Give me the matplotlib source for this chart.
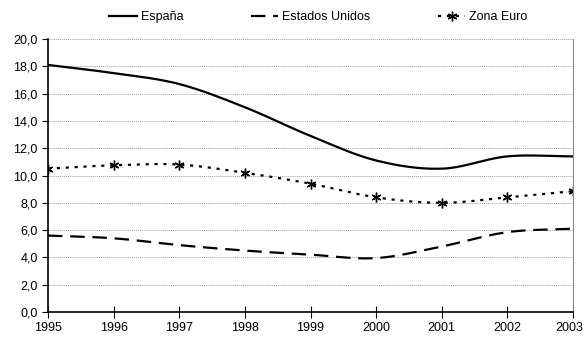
import numpy as np
import matplotlib
matplotlib.use('Agg')
import matplotlib.pyplot as plt
import matplotlib.transforms as mtransforms
from matplotlib.ticker import FuncFormatter

plt.rcParams['font.family'] = ['Liberation Sans', 'DejaVu Sans']

years = [1995, 1996, 1997, 1998, 1999, 2000, 2001, 2002, 2003]
espana = [18.1, 17.5, 16.7, 15.0, 12.9, 11.1, 10.5, 11.4, 11.4]
eeuu = [5.6, 5.4, 4.9, 4.5, 4.2, 3.95, 4.8, 5.85, 6.1]
zona_euro = [10.5, 10.75, 10.8, 10.2, 9.4, 8.4, 8.0, 8.4, 8.85]


def smooth(x, y, n=30):
    # Catmull-Rom style smoothing like Excel's smoothed lines
    x = np.asarray(x, float)
    y = np.asarray(y, float)
    px = np.concatenate([[2 * x[0] - x[1]], x, [2 * x[-1] - x[-2]]])
    py = np.concatenate([[2 * y[0] - y[1]], y, [2 * y[-1] - y[-2]]])
    xs, ys = [], []
    t = np.linspace(0, 1, n)
    for i in range(1, len(px) - 2):
        for arr, out in ((px, xs), (py, ys)):
            p0, p1, p2, p3 = arr[i - 1:i + 3]
            out.extend(0.5 * ((2 * p1) + (-p0 + p2) * t
                              + (2 * p0 - 5 * p1 + 4 * p2 - p3) * t ** 2
                              + (-p0 + 3 * p1 - 3 * p2 + p3) * t ** 3))
    return np.array(xs), np.array(ys)


fig = plt.figure(figsize=(5.85, 3.38), dpi=100)
ax = fig.add_axes([48 / 585, 26 / 338, (573 - 48) / 585, (312 - 39) / 338])

lw = 1.6
sx, sy = smooth(years, espana)
ax.plot(sx, sy, color='black', lw=lw, label='España')
sx, sy = smooth(years, eeuu)
ax.plot(sx, sy, color='black', lw=lw, dashes=(6.5, 3.5), label='Estados Unidos')
sx, sy = smooth(years, zona_euro)
ax.plot(sx, sy, color='black', lw=lw, dashes=(1.4, 2.6))
ax.plot(years, zona_euro, ls='none', marker=(6, 2, 0), color='black',
        ms=7, mew=1)
ax.plot([], [], color='black', lw=lw, dashes=(1.4, 2.6), marker=(6, 2, 0),
        ms=7, mew=1, label='Zona Euro')

ax.set_xlim(1995, 2003)
ax.set_ylim(0, 20)
ax.set_yticks(np.arange(0, 20.1, 2))
ax.set_xticks(years)
ax.yaxis.set_major_formatter(FuncFormatter(lambda v, p: f'{v:.1f}'.replace('.', ',')))
ax.yaxis.grid(True, color='#a0a0a0', ls=(0, (1, 1)), lw=0.7)
ax.set_axisbelow(True)

ax.spines['top'].set_visible(False)
ax.spines['right'].set_color('#888888')
ax.spines['left'].set_linewidth(1.2)
ax.spines['bottom'].set_linewidth(1.2)
ax.tick_params(axis='y', direction='out', length=4, labelsize=9)
ax.tick_params(axis='x', direction='inout', length=8, labelsize=9)

# nudge the last year label so it stays inside the figure
last = ax.get_xticklabels()[-1]
last.set_transform(last.get_transform()
                   + mtransforms.ScaledTranslation(-4 / 100, 0, fig.dpi_scale_trans))

ax.legend(loc='center', bbox_to_anchor=(0.515, 1 + 22 / 273), ncol=3, frameon=False,
          fontsize=9, handlelength=2.2, handletextpad=0.3, columnspacing=5.4,
          borderaxespad=0.0)

fig.savefig('out.png', dpi=100)
